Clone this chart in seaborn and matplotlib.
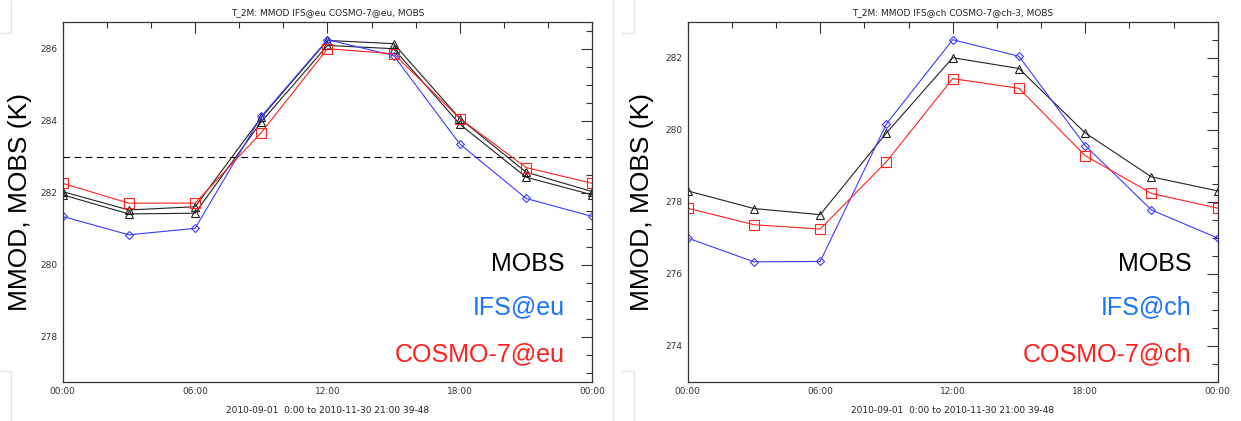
import numpy as np
import pandas as pd
import seaborn as sns
import matplotlib
matplotlib.use("Agg")
import matplotlib.pyplot as plt
from matplotlib.ticker import MultipleLocator, FixedLocator, FormatStrFormatter
from matplotlib.lines import Line2D

# ---------------- data ----------------
hours = [0, 3, 6, 9, 12, 15, 18, 21, 24]
hour_labels = ["00:00", "06:00", "12:00", "18:00", "00:00"]

eu_mobs_a = [282.03, 281.52, 281.61, 284.09, 286.23, 286.14, 284.06, 282.57, 282.03]
eu_mobs_b = [281.94, 281.41, 281.43, 283.97, 286.09, 286.00, 283.90, 282.43, 281.94]
eu_ifs = [281.34, 280.83, 281.01, 284.12, 286.25, 285.81, 283.35, 281.84, 281.34]
eu_cosmo = [282.26, 281.71, 281.71, 283.67, 286.00, 285.86, 284.06, 282.70, 282.26]
eu_ref = 283.0

ch_mobs = [278.30, 277.81, 277.64, 279.91, 282.00, 281.70, 279.91, 278.69, 278.30]
ch_ifs = [276.99, 276.33, 276.34, 280.16, 282.50, 282.04, 279.56, 277.77, 276.99]
ch_cosmo = [277.82, 277.36, 277.24, 279.11, 281.42, 281.15, 279.28, 278.23, 277.82]

titles = ["T_2M: MMOD IFS@eu COSMO-7@eu, MOBS", "T_2M: MMOD IFS@ch COSMO-7@ch-3, MOBS"]
subtitle = "2010-09-01  0:00 to 2010-11-30 21:00 39-48"
ylabel = "MMOD, MOBS (K)"
legend_left = ["MOBS", "IFS@eu", "COSMO-7@eu"]
legend_right = ["MOBS", "IFS@ch", "COSMO-7@ch"]

# ---------------- style ----------------
sns.set_theme(style="white")
plt.rcParams["font.family"] = ["DejaVu Sans"]

W, H = 1241, 421
fig = plt.figure(figsize=(W / 100, H / 100), dpi=100)
fig.patch.set_facecolor("white")

def px_axes(x0, x1, ytop, ybot):
    return fig.add_axes([x0 / W, 1 - ybot / H, (x1 - x0) / W, (ybot - ytop) / H])

axL = px_axes(62.7, 592.3, 21.7, 381.7)
axR = px_axes(687.7, 1217.7, 21.7, 381.7)

BLUE = "#3b3bff"
RED = "#ff2020"
BLK = "#222222"
TXT_BLUE = "#1a73ff"

def series(ax, vals, color, marker, ms):
    df = pd.DataFrame({"h": hours, "v": vals})
    sns.lineplot(data=df, x="h", y="v", ax=ax, color=color, lw=0.8,
                 marker=marker, markersize=ms, markerfacecolor="none",
                 markeredgecolor=color, markeredgewidth=0.8, legend=False)

# left panel
axL.axhline(eu_ref, color="black", lw=0.8, ls=(0, (6, 4)))
series(axL, eu_mobs_b, BLK, "^", 6)
series(axL, eu_mobs_a, BLK, "^", 6)
series(axL, eu_ifs, BLUE, "D", 4.5)
series(axL, eu_cosmo, RED, "s", 7)
axL.set_ylim(276.75, 286.75)

# right panel
series(axR, ch_mobs, BLK, "^", 6)
series(axR, ch_ifs, BLUE, "D", 4.5)
series(axR, ch_cosmo, RED, "s", 7)
axR.set_ylim(273.0, 283.0)

panels = [
    (axL, titles[0], legend_left, 0.948, -0.058),
    (axR, titles[1], legend_right, 0.950, -0.0636),
]
for ax, title, leg, xr, ylx in panels:
    ax.set_xlim(0, 24)
    ax.xaxis.set_major_locator(FixedLocator([0, 6, 12, 18, 24]))
    ax.set_xticklabels(hour_labels)
    ax.xaxis.set_minor_locator(MultipleLocator(2))
    ax.yaxis.set_major_locator(MultipleLocator(2))
    ax.yaxis.set_minor_locator(MultipleLocator(0.5))
    ax.yaxis.set_major_formatter(FormatStrFormatter("%d"))
    ax.tick_params(which="both", direction="in", top=True, right=True,
                   labelsize=6.5, colors="#333333", width=0.8, pad=4)
    ax.tick_params(which="major", length=8)
    ax.tick_params(which="minor", length=4)
    for s in ax.spines.values():
        s.set_color("#333333")
        s.set_linewidth(0.9)
        s.set_visible(True)
    ax.set_xlabel(subtitle, fontsize=6.5, labelpad=7, color="#222222")
    ax.set_ylabel(ylabel, fontsize=19, family=["Liberation Sans"], color="black")
    ax.yaxis.set_label_coords(ylx, 0.5)
    ax.set_title(title, fontsize=6.5, pad=5, color="#222222")
    ax.set_facecolor("white")
    ax.grid(False)
    # text legend
    for txt, yb, col in zip(leg, [0.3075, 0.188, 0.0575], ["black", TXT_BLUE, RED]):
        ax.text(xr, yb, txt, transform=ax.transAxes, ha="right", va="baseline",
                fontsize=18, family=["Liberation Sans"], color=col)

# faint screenshot frame remnants
fig.add_artist(Line2D([613 / W, 613 / W], [0, 1], color="#e6e6e6", lw=1))
for x0, w in [(0, 11), (622, 12)]:
    fig.add_artist(Line2D([x0 / W, (x0 + w) / W], [1 - 33 / H, 1 - 33 / H], color="#e6e6e6", lw=1))
    fig.add_artist(Line2D([(x0 + w) / W, (x0 + w) / W], [1 - 33 / H, 1], color="#e6e6e6", lw=1))
    fig.add_artist(Line2D([x0 / W, (x0 + w) / W], [1 - 371 / H, 1 - 371 / H], color="#e6e6e6", lw=1))
    fig.add_artist(Line2D([(x0 + w) / W, (x0 + w) / W], [1 - 371 / H, 0], color="#e6e6e6", lw=1))

fig.savefig("out.png", dpi=100, facecolor="white")
